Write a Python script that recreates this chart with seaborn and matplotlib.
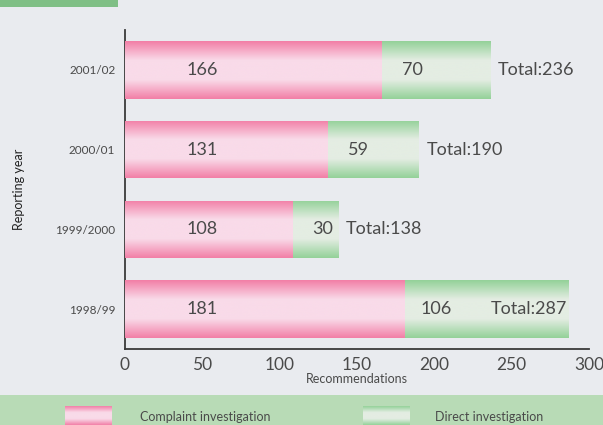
import numpy as np
import pandas as pd
import matplotlib
matplotlib.use("Agg")
import matplotlib.pyplot as plt
from matplotlib.colors import LinearSegmentedColormap
from matplotlib.patches import Rectangle
import seaborn as sns

# Recommendations by reporting year
years = ["2001/02", "2000/01", "1999/2000", "1998/99"]
complaint = [166, 131, 108, 181]
direct = [70, 59, 30, 106]
totals = [c + d for c, d in zip(complaint, direct)]
x_ticks = [0, 50, 100, 150, 200, 250, 300]
legend_labels = ["Complaint investigation", "Direct investigation"]

BG = "#e9ebef"
TEXT = "#4a4a4a"
PINK_EDGE, PINK_MID = "#f27ea6", "#f9dbe9"
GREEN_EDGE, GREEN_MID = "#93d198", "#e4ede3"

sns.set_theme(style="white")
plt.rcParams["font.family"] = ["Lato", "DejaVu Sans"]

df = pd.DataFrame({"year": years, "complaint": complaint, "direct": direct, "total": totals})

fig = plt.figure(figsize=(6.03, 4.25), dpi=100, facecolor=BG)
W, H = 603, 425
ax = fig.add_axes([125 / W, (H - 349) / H, (589 - 125) / W, (349 - 30) / H])
ax.set_facecolor(BG)

# Stacked bars: total (direct shows past complaint) then complaint on top
sns.barplot(data=df, y="year", x="total", order=years, orient="h", color=GREEN_EDGE,
            width=0.72, ax=ax, zorder=2)
n_total = len(ax.patches)
sns.barplot(data=df, y="year", x="complaint", order=years, orient="h", color=PINK_EDGE,
            width=0.72, ax=ax, zorder=3)


def band_cmap(edge, mid):
    return LinearSegmentedColormap.from_list("band", [edge, mid, mid, edge])


pink_cmap = band_cmap(PINK_EDGE, PINK_MID)
green_cmap = band_cmap(GREEN_EDGE, GREEN_MID)
grad = np.linspace(0, 1, 256).reshape(-1, 1)

for i, patch in enumerate(list(ax.patches)):
    cmap = green_cmap if i < n_total else pink_cmap
    x0, y0 = patch.get_x(), patch.get_y()
    w, h = patch.get_width(), patch.get_height()
    im = ax.imshow(grad, cmap=cmap, aspect="auto", extent=[x0, x0 + w, y0 + h, y0],
                   interpolation="bicubic", zorder=patch.get_zorder())
    im.set_clip_path(patch)
    patch.set_facecolor("none")
    patch.set_edgecolor("none")

ax.set_xlim(0, 300)
ax.set_ylim(3.5, -0.5)

# Value labels
for i, (c, d, t) in enumerate(zip(complaint, direct, totals)):
    ax.text(50, i, f"{c}", ha="center", va="center", fontsize=13, color=TEXT, zorder=5)
    ax.text(c + 20, i, f"{d}", ha="center", va="center", fontsize=13, color=TEXT, zorder=5)
    if t > 280:
        ax.text(t - 1, i, f"Total:{t}", ha="right", va="center", fontsize=13, color=TEXT, zorder=5)
    else:
        ax.text(t + 5, i, f"Total:{t}", ha="left", va="center", fontsize=13, color=TEXT, zorder=5)

# Axes styling
for side in ["top", "right"]:
    ax.spines[side].set_visible(False)
for side in ["left", "bottom"]:
    ax.spines[side].set_color("#3a3a3a")
    ax.spines[side].set_linewidth(1.3)

ax.set_xticks(x_ticks)
ax.set_xticklabels([str(v) for v in x_ticks], fontsize=12.5, color=TEXT)
ax.tick_params(axis="x", direction="in", length=7, width=1.2, color="#3a3a3a", pad=6)
ax.set_yticks(range(len(years)))
ax.set_yticklabels(years, fontsize=8.5, color=TEXT)
ax.tick_params(axis="y", length=0, pad=7)
ax.set_yticks([-0.5, 0.5, 1.5, 2.5], minor=True)
ax.tick_params(axis="y", which="minor", direction="in", length=10, width=1.2, color="#3a3a3a")

ax.set_xlabel("Recommendations", fontsize=9, color=TEXT, labelpad=0)
ax.set_ylabel("Reporting year", fontsize=9, color="#222222", labelpad=10)
ax.yaxis.set_label_coords(-0.215, 0.5)

# Decorative bands (kept behind the legend swatches)
fig.patches.append(Rectangle((0, 1 - 7 / H), 118 / W, 7 / H, transform=fig.transFigure,
                             facecolor="#7fbf85", edgecolor="none", zorder=-2))
fig.patches.append(Rectangle((0, 0), 1, 30 / H, transform=fig.transFigure,
                             facecolor="#b8dbb6", edgecolor="none", zorder=-2))

# Legend swatches
for (x0, cmap), label, tx in zip([(65, pink_cmap), (363, green_cmap)], legend_labels, [140, 435]):
    sw = fig.add_axes([x0 / W, 0, 47 / W, 19 / H])
    sw.imshow(grad, cmap=cmap, aspect="auto", interpolation="bicubic")
    sw.set_axis_off()
    fig.text(tx / W, 8 / H, label, fontsize=9, color=TEXT, ha="left", va="center")

fig.savefig("out.png", dpi=100, facecolor=BG)
